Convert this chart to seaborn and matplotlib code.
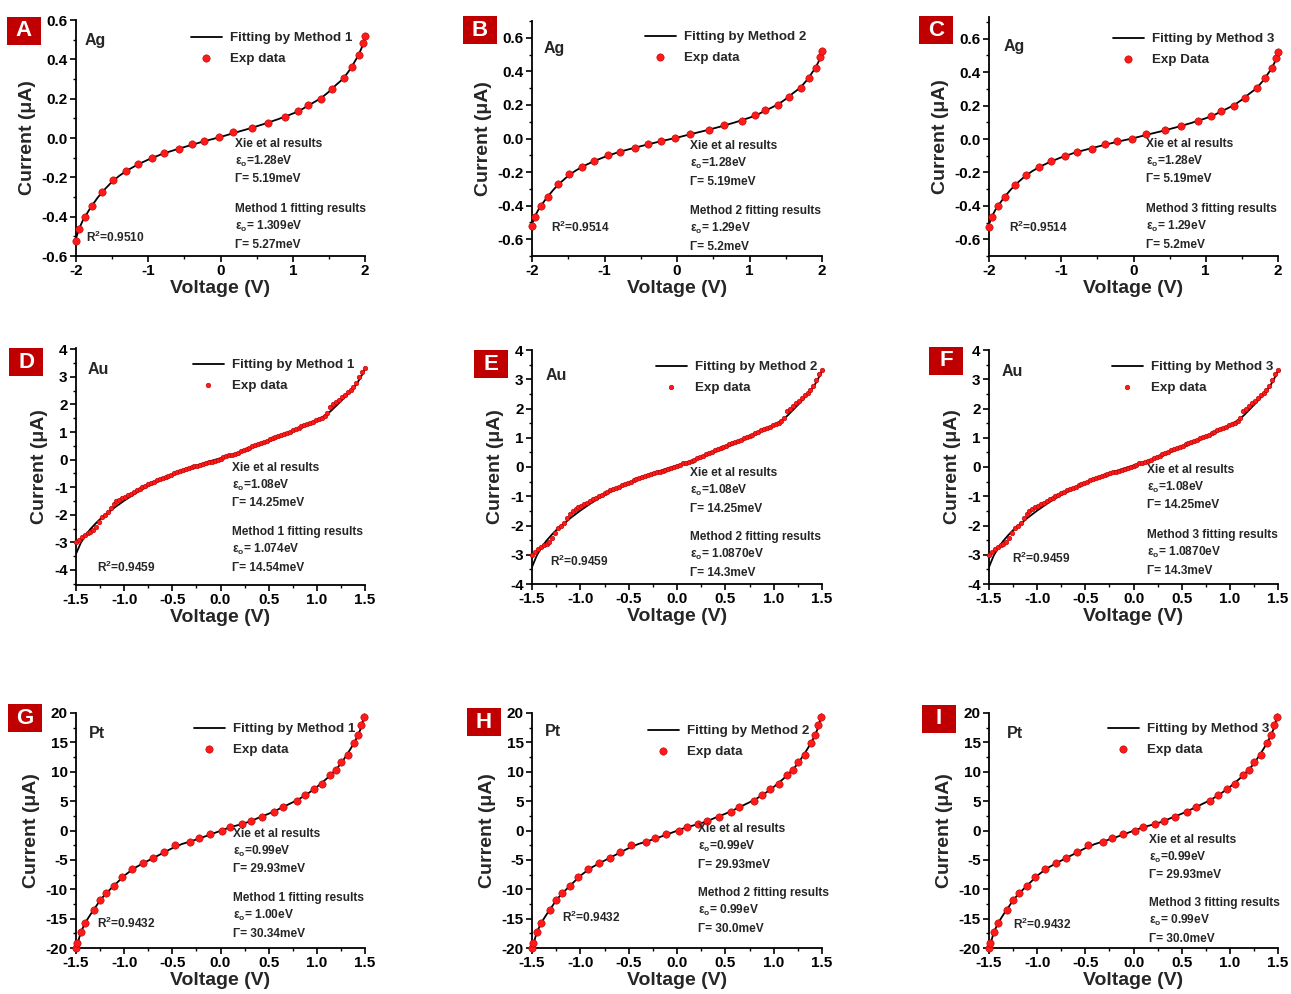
import numpy as np
import pandas as pd
import matplotlib
matplotlib.use("Agg")
import matplotlib.pyplot as plt
from matplotlib.patches import Rectangle
from matplotlib.ticker import MultipleLocator, FormatStrFormatter
import seaborn as sns

# ---------------- data ----------------
ag_v = [-2.0, -1.963, -1.875, -1.78, -1.636, -1.49, -1.313, -1.142, -0.953, -0.787,
        -0.575, -0.40, -0.225, -0.022, 0.178, 0.436, 0.653, 0.893, 1.073, 1.216,
        1.387, 1.539, 1.705, 1.825, 1.917, 1.977, 2.0]
ag_i = [-0.524, -0.465, -0.400, -0.346, -0.274, -0.214, -0.169, -0.134, -0.100, -0.078,
        -0.058, -0.031, -0.014, 0.003, 0.029, 0.051, 0.078, 0.107, 0.138, 0.168,
        0.199, 0.247, 0.303, 0.363, 0.422, 0.485, 0.52]
ag_fit_v = [-2.0, -1.95, -1.9, -1.8, -1.7, -1.6, -1.5, -1.4, -1.3, -1.2, -1.1, -1.0,
            -0.8, -0.6, -0.4, -0.2, 0.0, 0.2, 0.4, 0.6, 0.8, 1.0, 1.1, 1.2, 1.3, 1.4,
            1.5, 1.6, 1.7, 1.8, 1.9, 1.95, 2.0]
ag_fit_i = [-0.51, -0.455, -0.415, -0.355, -0.303, -0.26, -0.222, -0.192, -0.167, -0.146,
            -0.127, -0.11, -0.08, -0.057, -0.035, -0.014, 0.005, 0.027, 0.048, 0.071,
            0.096, 0.124, 0.140, 0.162, 0.183, 0.205, 0.235, 0.27, 0.302, 0.352, 0.415,
            0.455, 0.505]

au_v = np.round(np.arange(-1.5, 1.5001, 0.03), 3)
au_i = [-3.00, -2.90, -2.81, -2.73, -2.67, -2.62, -2.55, -2.43, -2.25, -2.10,
        -2.01, -1.90, -1.75, -1.62, -1.52, -1.45, -1.38, -1.34, -1.28, -1.235,
        -1.17, -1.11, -1.055, -1.00, -0.945, -0.89, -0.845, -0.80, -0.755, -0.715,
        -0.67, -0.625, -0.585, -0.545, -0.50, -0.46, -0.42, -0.385, -0.35, -0.315,
        -0.28, -0.245, -0.215, -0.18, -0.155, -0.13, -0.10, -0.07, -0.035, 0.00,
        0.03, 0.08, 0.12, 0.15, 0.185, 0.215, 0.255, 0.295, 0.335, 0.385,
        0.43, 0.48, 0.52, 0.565, 0.61, 0.65, 0.69, 0.73, 0.77, 0.81,
        0.85, 0.895, 0.935, 0.975, 1.015, 1.06, 1.10, 1.15, 1.205, 1.25,
        1.295, 1.335, 1.38, 1.425, 1.47, 1.52, 1.58, 1.69, 1.90, 2.00,
        2.08, 2.18, 2.27, 2.35, 2.45, 2.53, 2.62, 2.78, 2.98, 3.18, 3.33]
au_fit_v = [-1.5, -1.45, -1.4, -1.35, -1.3, -1.25, -1.2, -1.15, -1.1, -1.0, -0.9, -0.8,
            -0.7, -0.6, -0.5, -0.4, -0.3, -0.2, -0.1, 0.0, 0.1, 0.2, 0.3, 0.4, 0.5, 0.6,
            0.7, 0.8, 0.9, 1.0, 1.1, 1.15, 1.2, 1.25, 1.3, 1.35, 1.4, 1.45, 1.5]
au_fit_i = [-3.42, -3.02, -2.74, -2.52, -2.33, -2.16, -2.02, -1.88, -1.74, -1.49, -1.26,
            -1.05, -0.87, -0.70, -0.55, -0.41, -0.28, -0.16, -0.05, 0.05, 0.15, 0.26,
            0.39, 0.53, 0.66, 0.80, 0.95, 1.10, 1.26, 1.43, 1.63, 1.78, 1.95, 2.12,
            2.30, 2.48, 2.68, 2.95, 3.28]

pt_v = [-1.5, -1.486, -1.452, -1.407, -1.317, -1.25, -1.19, -1.11, -1.023, -0.922,
        -0.808, -0.697, -0.59, -0.472, -0.32, -0.223, -0.112, 0.019, 0.099, 0.22,
        0.313, 0.431, 0.555, 0.645, 0.798, 0.88, 0.967, 1.057, 1.137, 1.196,
        1.251, 1.32, 1.386, 1.427, 1.458, 1.489]
pt_i = [-20.0, -19.07, -17.3, -15.8, -13.6, -11.9, -10.7, -9.4, -7.9, -6.6,
        -5.6, -4.6, -3.7, -2.55, -1.99, -1.36, -0.68, -0.06, 0.57, 1.08,
        1.59, 2.38, 3.18, 4.03, 5.1, 6.0, 6.98, 8.0, 9.42, 10.33,
        11.69, 12.88, 14.93, 16.29, 17.94, 19.24]
pt_fit_v = [-1.5, -1.45, -1.4, -1.35, -1.3, -1.25, -1.2, -1.1, -1.0, -0.9, -0.8, -0.7,
            -0.6, -0.5, -0.4, -0.3, -0.2, -0.1, 0.0, 0.1, 0.2, 0.3, 0.4, 0.5, 0.6, 0.7,
            0.8, 0.9, 1.0, 1.1, 1.2, 1.25, 1.3, 1.35, 1.4, 1.45, 1.5]
pt_fit_i = [-20.2, -17.3, -15.6, -14.3, -13.1, -11.9, -10.9, -9.3, -7.7, -6.45, -5.55,
            -4.7, -3.85, -3.0, -2.3, -1.8, -1.25, -0.65, -0.05, 0.55, 1.0, 1.5, 2.2,
            2.85, 3.6, 4.4, 5.2, 6.2, 7.4, 8.8, 10.4, 11.4, 12.6, 13.9, 15.3, 17.1, 19.8]

panel_letters = ["A", "B", "C", "D", "E", "F", "G", "H", "I"]
metals = ["Ag", "Ag", "Ag", "Au", "Au", "Au", "Pt", "Pt", "Pt"]
fit_labels = ["Fitting by Method 1", "Fitting by Method 2", "Fitting by Method 3"] * 3
exp_labels = ["Exp data", "Exp data", "Exp Data", "Exp data", "Exp data", "Exp data",
              "Exp data", "Exp data", "Exp data"]
r2_texts = ["0.9510", "0.9514", "0.9514", "0.9459", "0.9459", "0.9459",
            "0.9432", "0.9432", "0.9432"]
xie_eps = ["1.28", "1.28", "1.28", "1.08", "1.08", "1.08", "0.99", "0.99", "0.99"]
xie_gamma = ["5.19", "5.19", "5.19", "14.25", "14.25", "14.25", "29.93", "29.93", "29.93"]
fit_eps = ["1.309", "1.29", "1.29", "1.074", "1.0870", "1.0870", "1.00", "0.99", "0.99"]
fit_gamma = ["5.27", "5.2", "5.2", "14.54", "14.3", "14.3", "30.34", "30.0", "30.0"]
method_names = ["Method 1", "Method 2", "Method 3"] * 3

# ---------------- style ----------------
sns.set_theme(style="ticks")
plt.rcParams["font.family"] = ["Liberation Sans", "DejaVu Sans"]
plt.rcParams["font.weight"] = "bold"
plt.rcParams["axes.unicode_minus"] = False
plt.rcParams["mathtext.fontset"] = "custom"
plt.rcParams["mathtext.rm"] = "Liberation Sans:bold"
plt.rcParams["mathtext.bf"] = "Liberation Sans:bold"
plt.rcParams["mathtext.it"] = "Liberation Sans:bold"

W, H = 1291, 994
fig = plt.figure(figsize=(W / 100, H / 100), dpi=100)
fig.patch.set_facecolor("white")

# layout (pixels): left, right, top, bottom
boxes = [(76, 365, 20, 256), (532, 822, 21, 256), (989, 1278, 17, 256),
         (76, 365, 348, 585), (532, 822, 350, 584), (989, 1278, 350, 584),
         (76, 365, 713, 948), (532, 822, 713, 948), (989, 1278, 713, 948)]
ylims = [(-0.6, 0.6), (-0.7, 0.7), (-0.7, 0.73),
         (-4.55, 4.05), (-4, 4), (-4, 4),
         (-20, 20), (-20, 20), (-20, 20)]
letter_pos = [(24, 31), (480, 30), (936, 30), (26, 362), (491, 364), (946, 361),
              (25, 718), (484, 722), (939, 719)]
metal_pos = [(85, 40), (544, 48), (1004, 46), (88, 370), (546, 375), (1002, 371),
             (89, 733), (545, 732), (1007, 734)]
xie_pos = [(235, 144), (690, 146), (1146, 144), (232, 468), (690, 473), (1147, 470),
           (233, 834), (698, 829), (1149, 840)]
meth_pos = [(235, 209), (690, 211), (1146, 209), (232, 532), (690, 537), (1147, 535),
            (233, 898), (698, 893), (1149, 903)]
r2_pos = [(86, 237), (551, 227), (1009, 227), (97, 567), (550, 561), (1012, 558),
          (97, 923), (562, 917), (1013, 924)]
leg_pos = [(192, 36), (646, 35), (1114, 37), (194, 363), (657, 365), (1113, 365),
           (195, 727), (649, 729), (1109, 727)]

RED = "#ff1a1a"
EDGE = "#b00000"


def fx(x):
    return x / W


def fy(y):
    return 1 - y / H


for k in range(9):
    l, r, t, b = boxes[k]
    ax = fig.add_axes([fx(l), fy(b), (r - l) / W, (b - t) / H])
    metal = metals[k]
    if metal == "Ag":
        fit_df = pd.DataFrame({"V": ag_fit_v, "I": ag_fit_i})
        exp_df = pd.DataFrame({"V": ag_v, "I": ag_i})
        s, xl = 28, (-2, 2)
    elif metal == "Au":
        fit_df = pd.DataFrame({"V": au_fit_v, "I": au_fit_i})
        exp_df = pd.DataFrame({"V": au_v, "I": au_i})
        s, xl = 11, (-1.5, 1.5)
    else:
        fit_df = pd.DataFrame({"V": pt_fit_v, "I": pt_fit_i})
        exp_df = pd.DataFrame({"V": pt_v, "I": pt_i})
        s, xl = 28, (-1.5, 1.5)

    sns.lineplot(data=fit_df, x="V", y="I", ax=ax, color="black", lw=1.3,
                 label=fit_labels[k], zorder=2, sort=False)
    sns.scatterplot(data=exp_df, x="V", y="I", ax=ax, s=s, color=RED,
                    edgecolor=EDGE, linewidth=0.4, label=exp_labels[k], zorder=3,
                    clip_on=False)

    ax.set_xlim(*xl)
    ax.set_ylim(*ylims[k])
    for side in ["top", "right"]:
        ax.spines[side].set_visible(False)
    for side in ["left", "bottom"]:
        ax.spines[side].set_linewidth(1.3)
        ax.spines[side].set_color("black")

    if metal == "Ag":
        ax.xaxis.set_major_locator(MultipleLocator(1))
        ax.xaxis.set_minor_locator(MultipleLocator(0.5))
        ax.xaxis.set_major_formatter(FormatStrFormatter("%d"))
        ax.yaxis.set_major_locator(MultipleLocator(0.2))
        ax.yaxis.set_minor_locator(MultipleLocator(0.1))
        ax.yaxis.set_major_formatter(FormatStrFormatter("%.1f"))
    else:
        ax.xaxis.set_major_locator(MultipleLocator(0.5))
        ax.xaxis.set_minor_locator(MultipleLocator(0.25))
        ax.xaxis.set_major_formatter(FormatStrFormatter("%.1f"))
        if metal == "Au":
            ax.yaxis.set_major_locator(MultipleLocator(1))
            ax.yaxis.set_minor_locator(MultipleLocator(0.5))
        else:
            ax.yaxis.set_major_locator(MultipleLocator(5))
            ax.yaxis.set_minor_locator(MultipleLocator(2.5))
        ax.yaxis.set_major_formatter(FormatStrFormatter("%d"))

    ax.tick_params(which="major", direction="out", length=4, width=1.2,
                   labelsize=11, pad=2, colors="black")
    ax.tick_params(which="minor", direction="out", length=2.5, width=1.0,
                   colors="black")
    for lab in ax.get_xticklabels() + ax.get_yticklabels():
        lab.set_fontweight("bold")

    ax.set_xlabel("Voltage (V)", fontsize=14, fontweight="bold", labelpad=1)
    ax.set_ylabel("Current (μA)", fontsize=14, fontweight="bold", labelpad=4)

    # legend
    lx, ly = leg_pos[k]
    axw, axh = r - l, b - t
    leg = ax.legend(loc="upper left",
                    bbox_to_anchor=((lx - l - 1) / axw, 1 - (ly - t - 4) / axh),
                    frameon=False, fontsize=9.6, handlelength=2.3,
                    handletextpad=0.6, labelspacing=0.62, borderpad=0,
                    borderaxespad=0, markerscale=1.0)
    for txt in leg.get_texts():
        txt.set_fontweight("bold")

    # panel letter box
    px, py = letter_pos[k]
    fig.patches.append(Rectangle((fx(px - 17), fy(py + 14)), 34 / W, 28 / H,
                                 transform=fig.transFigure, fc="#c00000", ec="none",
                                 zorder=5))
    fig.text(fx(px), fy(py), panel_letters[k], color="white", fontsize=16,
             fontweight="bold", ha="center", va="center", zorder=6)
    # metal label
    mx, my = metal_pos[k]
    fig.text(fx(mx), fy(my), metal, fontsize=11.5, fontweight="bold",
             ha="left", va="center")
    # annotations
    fs = 8.6
    xx, xy = xie_pos[k]
    fig.text(fx(xx), fy(xy), "Xie et al results", fontsize=fs, fontweight="bold",
             ha="left", va="center")
    fig.text(fx(xx), fy(xy + 17.5), "ε$_\\mathregular{o}$=" + xie_eps[k] + "eV",
             fontsize=fs, fontweight="bold", ha="left", va="center")
    fig.text(fx(xx), fy(xy + 35.5), "Γ= " + xie_gamma[k] + "meV",
             fontsize=fs, fontweight="bold", ha="left", va="center")
    mxx, mxy = meth_pos[k]
    fig.text(fx(mxx), fy(mxy), method_names[k] + " fitting results", fontsize=fs,
             fontweight="bold", ha="left", va="center")
    fig.text(fx(mxx), fy(mxy + 17.5), "ε$_\\mathregular{o}$= " + fit_eps[k] + "eV",
             fontsize=fs, fontweight="bold", ha="left", va="center")
    fig.text(fx(mxx), fy(mxy + 36), "Γ= " + fit_gamma[k] + "meV",
             fontsize=fs, fontweight="bold", ha="left", va="center")
    rx, ry = r2_pos[k]
    fig.text(fx(rx), fy(ry), "R$^\\mathregular{2}$=" + r2_texts[k], fontsize=fs,
             fontweight="bold", ha="left", va="center")

fig.savefig("out.png", dpi=100, facecolor="white")
